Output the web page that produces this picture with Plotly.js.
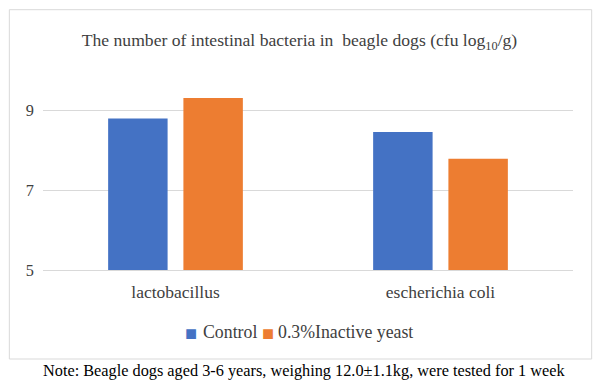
<!DOCTYPE html>
<html>
<head>
<meta charset="utf-8">
<script src="https://cdn.plot.ly/plotly-3.0.1.min.js"></script>
<style>html,body{margin:0;padding:0;background:#fff;}#chart{width:600px;height:388px;}</style>
</head>
<body>
<div id="chart"></div>
<script>
const categories = ["lactobacillus", "escherichia coli"];
const controlValues = [8.79, 8.45];
const yeastValues = [9.30, 7.78];
const seriesNames = ["Control", "0.3%Inactive yeast"];
const seriesColors = ["#4472C4", "#ED7D31"];
const yTicks = [5, 7, 9];

const serif = "Liberation Serif, Times New Roman, serif";

const traces = [
  {type: "bar", x: categories, y: controlValues, name: seriesNames[0],
   marker: {color: seriesColors[0]}, hoverinfo: "y"},
  {type: "bar", x: categories, y: yeastValues, name: seriesNames[1],
   marker: {color: seriesColors[1]}, hoverinfo: "y"}
];

// plot area in pixels: x 42.7..573.3, y 70.3..270.3
const L = 42.7, W = 530.6, B = 270.3, H = 200;
const px = v => (v - L) / W;
const py = v => (B - v) / H;

const legendAnn = [
  {text: "■", x: px(191), xanchor: "center", color: seriesColors[0], size: 20, y: 333},
  {text: seriesNames[0], x: px(201), xanchor: "left", color: "#404040", size: 17.8, y: 332.5},
  {text: "■", x: px(267.7), xanchor: "center", color: seriesColors[1], size: 20, y: 333},
  {text: seriesNames[1], x: px(275.5), xanchor: "left", color: "#404040", size: 17.8, y: 332.5}
].map(a => ({
  text: a.text, xref: "paper", yref: "paper", x: a.x, y: py(a.y),
  xanchor: a.xanchor, yanchor: "middle", showarrow: false,
  font: {family: serif, size: a.size, color: a.color}
}));

const layout = {
  width: 600, height: 388,
  margin: {l: 42.7, r: 26.7, t: 70.3, b: 117.7, pad: 0},
  paper_bgcolor: "#fff", plot_bgcolor: "#fff",
  font: {family: serif, color: "#595959", size: 16},
  title: {
    text: "The number of intestinal bacteria in  beagle dogs (cfu log<sub>10</sub>/g)",
    font: {family: serif, size: 17.6, color: "#404040"},
    x: 0.4992, xref: "container", xanchor: "center",
    y: 1 - 40/388, yref: "container", yanchor: "middle"
  },
  barmode: "group",
  bargap: 0.432,
  bargroupgap: 0.21,
  xaxis: {
    showline: true, linecolor: "#D9D9D9", linewidth: 1,
    showgrid: false, zeroline: false, ticks: "",
    tickfont: {family: serif, size: 17.5, color: "#404040"},
    ticklabelstandoff: 6
  },
  yaxis: {
    range: [5, 10], tickvals: yTicks, ticktext: yTicks.map(String),
    showgrid: true, gridcolor: "#D9D9D9", gridwidth: 1,
    zeroline: false, showline: false, ticks: "",
    tickfont: {family: serif, size: 16.3, color: "#404040"},
    ticklabelstandoff: 8
  },
  showlegend: false,
  annotations: legendAnn.concat([{
    text: "Note: Beagle dogs aged 3-6 years, weighing 12.0±1.1kg, were tested for 1 week",
    xref: "paper", yref: "paper", x: px(304.3), y: py(371),
    xanchor: "center", yanchor: "middle", showarrow: false,
    font: {family: serif, size: 16.3, color: "#000"}
  }]),
  shapes: [{
    type: "rect", xref: "paper", yref: "paper",
    x0: px(9), x1: px(592), y0: py(359.3), y1: py(10),
    line: {color: "#D9D9D9", width: 1}, fillcolor: "rgba(0,0,0,0)", layer: "below"
  }]
};

Plotly.newPlot("chart", traces, layout, {displayModeBar: false, staticPlot: true});
</script>
</body>
</html>
